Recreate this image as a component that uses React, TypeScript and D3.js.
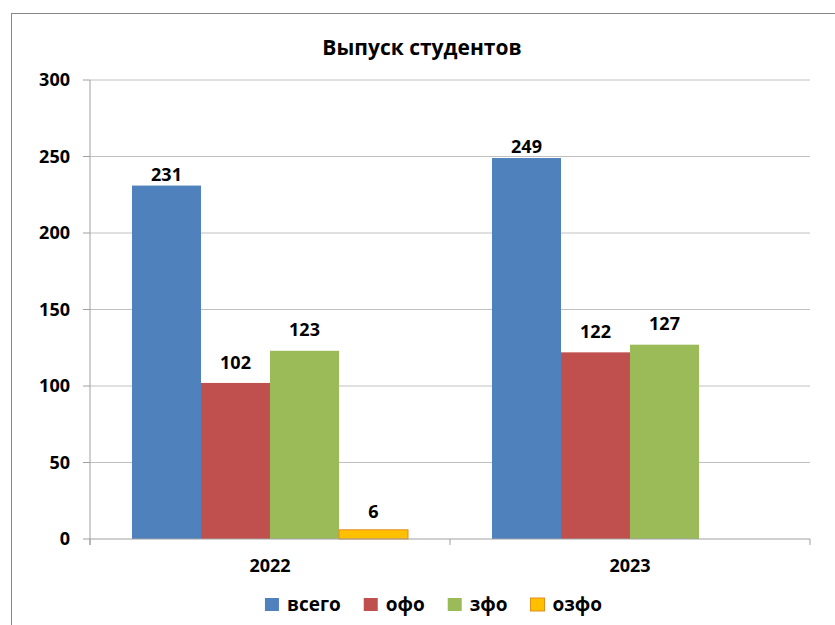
import React from "react";
import * as d3 from "d3";

const title = "Выпуск студентов";
const categories = ["2022", "2023"];
const seriesNames = ["всего", "офо", "зфо", "озфо"];
const values2022 = [231, 102, 123, 6];
const values2023 = [249, 122, 127, null];
const yTicks = [0, 50, 100, 150, 200, 250, 300];

const seriesColors = ["#4f81bd", "#c0504d", "#9bbb59", "#ffc000"];
const seriesStroke = ["none", "none", "none", "#e38d1d"];
const labelGap = [5, 14, 15, 12];

const W = 835;
const H = 625;
const FONT = "'Open Sans', 'DejaVu Sans', sans-serif";

function measure(text: string, font: string): number {
  const c = document.createElement("canvas");
  const ctx = c.getContext("2d");
  if (!ctx) return text.length * 10;
  ctx.font = font;
  return ctx.measureText(text).width;
}

export default function App() {
  const plotL = 90, plotR = 810, plotT = 80, plotB = 539;
  const rows = [values2022, values2023];

  const x0 = d3.scaleBand<string>().domain(categories).range([plotL, plotR]).padding(0);
  const x1 = d3
    .scaleBand<string>()
    .domain(seriesNames)
    .range([42, x0.bandwidth() - 42])
    .padding(0);
  const y = d3.scaleLinear().domain([0, 300]).range([plotB, plotT]);

  // legend layout
  const legendFont = `bold 19px ${FONT}`;
  const sq = 14, gapSqText = 8, gapItems = 23;
  const widths = seriesNames.map((s) => measure(s, legendFont));
  const total = widths.reduce((a, w) => a + sq + gapSqText + w, 0) + gapItems * (seriesNames.length - 1);
  let lx = 433.5 - total / 2;
  const legendItems = seriesNames.map((s, i) => {
    const item = { name: s, x: lx, color: seriesColors[i], stroke: seriesStroke[i] };
    lx += sq + gapSqText + widths[i] + gapItems;
    return item;
  });

  return (
    <svg
      width={W}
      height={H}
      style={{ position: "absolute", left: 0, top: 0, background: "#fff" }}
      fontFamily={FONT}
    >
      <rect x={11.5} y={13.5} width={W} height={H} fill="#fff" stroke="#868686" strokeWidth={1} />
      <text x={422} y={55} textAnchor="middle" fontSize={21} fontWeight="bold" fill="#000">
        {title}
      </text>

      {/* gridlines */}
      {yTicks.map((t) => (
        <g key={t}>
          {t > 0 && (
            <line x1={plotL} x2={plotR} y1={y(t)} y2={y(t)} stroke="#c0c0c0" strokeWidth={1} />
          )}
          <line x1={plotL - 7} x2={plotL} y1={y(t)} y2={y(t)} stroke="#a0a0a0" strokeWidth={1} />
          <text
            x={70}
            y={y(t)}
            dy="0.35em"
            textAnchor="end"
            fontSize={18}
            fontWeight="bold"
            fill="#000"
          >
            {t}
          </text>
        </g>
      ))}

      {/* y axis */}
      <line x1={plotL} x2={plotL} y1={plotT} y2={plotB + 6} stroke="#a0a0a0" strokeWidth={1} />

      {/* bars */}
      {categories.map((c, ci) => (
        <g key={c} transform={`translate(${x0(c)},0)`}>
          {seriesNames.map((s, si) => {
            const v = rows[ci][si];
            if (v === null || v === undefined) return null;
            const bx = x1(s) as number;
            return (
              <g key={s}>
                <rect
                  x={bx}
                  y={y(v)}
                  width={x1.bandwidth()}
                  height={plotB - y(v)}
                  fill={seriesColors[si]}
                  stroke={seriesStroke[si]}
                  strokeWidth={1}
                />
                <text
                  x={bx + x1.bandwidth() / 2}
                  y={y(v) - labelGap[si]}
                  textAnchor="middle"
                  fontSize={18}
                  fontWeight="bold"
                  fill="#000"
                >
                  {v}
                </text>
              </g>
            );
          })}
        </g>
      ))}

      {/* x axis */}
      <line x1={plotL} x2={plotR} y1={plotB} y2={plotB} stroke="#a0a0a0" strokeWidth={1} />
      {[plotL, ...categories.map((c) => (x0(c) as number) + x0.bandwidth())].map((tx, i) => (
        <line key={i} x1={tx} x2={tx} y1={plotB} y2={plotB + 6} stroke="#a0a0a0" strokeWidth={1} />
      ))}
      {categories.map((c) => (
        <text
          key={c}
          x={(x0(c) as number) + x0.bandwidth() / 2}
          y={572}
          textAnchor="middle"
          fontSize={18}
          fontWeight="bold"
          fill="#000"
        >
          {c}
        </text>
      ))}

      {/* legend */}
      {legendItems.map((it) => (
        <g key={it.name}>
          <rect
            x={it.x}
            y={598}
            width={sq}
            height={13}
            fill={it.color}
            stroke={it.stroke}
            strokeWidth={1}
          />
          <text x={it.x + sq + gapSqText} y={611} fontSize={19} fontWeight="bold" fill="#000">
            {it.name}
          </text>
        </g>
      ))}
    </svg>
  );
}
